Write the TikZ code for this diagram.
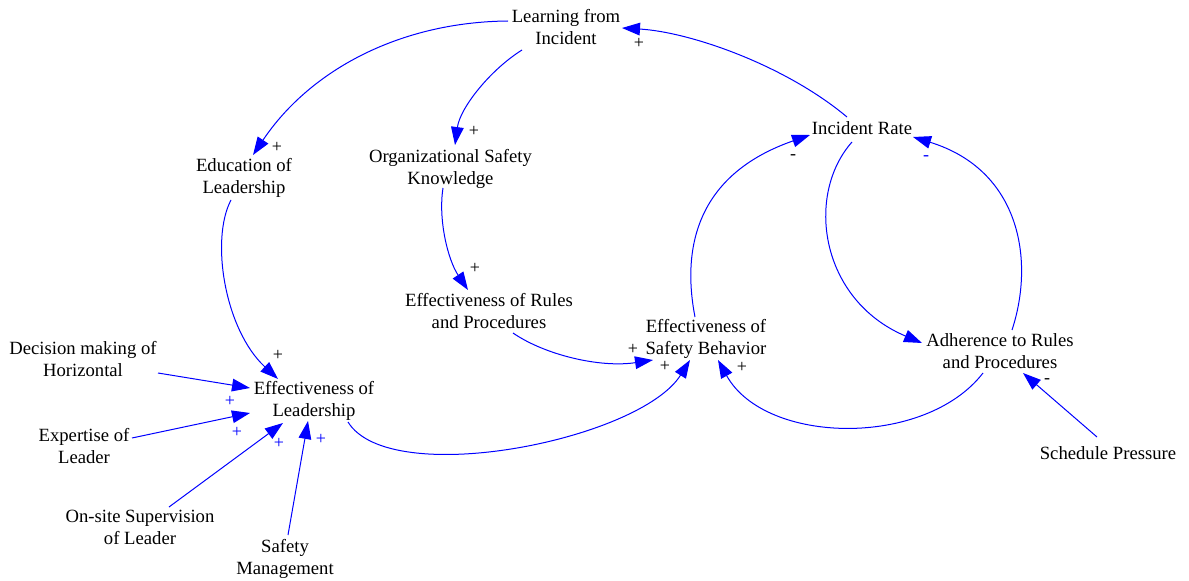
\documentclass[tikz,border=0pt]{standalone}
\usepackage{fontspec}
\setmainfont{Liberation Serif}
\usetikzlibrary{arrows.meta}
\begin{document}
\begin{tikzpicture}[x=0.75pt,y=-0.75pt,
  var/.style={align=center,inner sep=0pt,font=\fontsize{14}{16.5}\selectfont},
  link/.style={draw=blue,line width=0.75pt,-{Triangle[length=13.5pt,width=9.5pt]}},
  pol/.style={inner sep=0pt,font=\fontsize{13.5}{15}\selectfont},
  bpol/.style={pol,text=blue}]
\useasboundingbox (0,0) rectangle (1189,581);
% variables
\node[var] (lfi) at (566,29.6) {\strut Learning from\\\strut Incident};
\node[var] (ir)  at (862,130.6) {\strut Incident Rate};
\node[var] (edu) at (244,178.6) {\strut Education of\\\strut Leadership};
\node[var] (osk) at (450.5,169) {\strut Organizational Safety\\\strut Knowledge};
\node[var] (efr) at (489,313) {\strut Effectiveness of Rules\\\strut and Procedures};
\node[var] (esb) at (706,339) {\strut Effectiveness of\\\strut Safety Behavior};
\node[var] (adh) at (1000,352.8) {\strut Adherence to Rules\\\strut and Procedures};
\node[var] (dmh) at (83,361.4) {\strut Decision making of\\\strut Horizontal};
\node[var] (efl) at (314,401) {\strut Effectiveness of\\\strut Leadership};
\node[var] (exp) at (84,448) {\strut Expertise of\\\strut Leader};
\node[var] (osl) at (140,528.6) {\strut On-site Supervision\\\strut of Leader};
\node[var] (sm)  at (285,558.6) {\strut Safety\\\strut Management};
\node[var] (sp)  at (1108,454.6) {\strut Schedule Pressure};
% curved links
\draw[link] ([shift={(-58,-8.6)}]lfi.center) .. controls (400,22) and (310,70) .. ([shift={(9,-23.6)}]edu.center);
\draw[link] ([shift={(-44,20.4)}]lfi.center) .. controls (490,70) and (460,108) .. ([shift={(4.5,-24)}]osk.center);
\draw[link] ([shift={(-15,-13.6)}]ir.center) .. controls (785,65) and (690,32) .. ([shift={(56,-1.6)}]lfi.center);
\draw[link] ([shift={(-13,21.4)}]edu.center) .. controls (210,240) and (225,330) .. ([shift={(-36,-22)}]efl.center);
\draw[link] ([shift={(-7.5,19)}]osk.center) .. controls (438,220) and (448,260) .. ([shift={(-21,-23)}]efr.center);
\draw[link] ([shift={(24,20)}]efr.center) .. controls (545,355) and (600,368) .. ([shift={(-53,21)}]esb.center);
\draw[link] ([shift={(34,21)}]efl.center) .. controls (390,490) and (640,440) .. ([shift={(-16,21)}]esb.center);
\draw[link] ([shift={(-11,-22)}]esb.center) .. controls (682,250) and (695,175) .. ([shift={(-52,4.4)}]ir.center);
\draw[link] ([shift={(-10,11.4)}]ir.center) .. controls (805,195) and (820,300) .. ([shift={(-78,-9.8)}]adh.center);
\draw[link] ([shift={(12,-22.8)}]adh.center) .. controls (1035,260) and (1020,170) .. ([shift={(51,6.4)}]ir.center);
\draw[link] ([shift={(-17,20.2)}]adh.center) .. controls (925,448) and (765,445) .. ([shift={(12,21)}]esb.center);
% straight links
\draw[link] ([shift={(-11,-17.6)}]sp.center) -- ([shift={(23,20.2)}]adh.center);
\draw[link] ([shift={(75,11.6)}]dmh.center) -- ([shift={(-64,-13)}]efl.center);
\draw[link] ([shift={(48,-10)}]exp.center) -- ([shift={(-64,12)}]efl.center);
\draw[link] ([shift={(29,-21.6)}]osl.center) -- ([shift={(-31,22)}]efl.center);
\draw[link] ([shift={(3,-23.6)}]sm.center) -- ([shift={(-6,20)}]efl.center);
% polarities
\node[pol] (p1) at (639,43) {+};
\node[pol] (p2) at (277,147) {+};
\node[pol] (p3) at (474,131) {+};
\node[pol] (p4) at (475,268) {+};
\node[pol] (p5) at (278,355) {+};
\node[bpol] (p6) at (230,401) {+};
\node[bpol] (p7) at (237,432) {+};
\node[bpol] (p8) at (279,443) {+};
\node[bpol] (p9) at (321,439) {+};
\node[pol] (p10) at (633,349) {+};
\node[pol] (p11) at (665,366) {+};
\node[pol] (p12) at (742,367) {+};
\node[pol] (p13) at (793,157) {-};
\node[bpol] (p14) at (926,158) {-};
\node[pol] (p15) at (1047,381) {-};
\end{tikzpicture}
\end{document}
